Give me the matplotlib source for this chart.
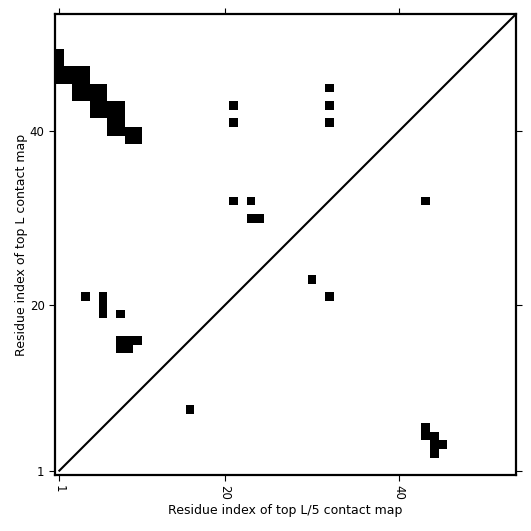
import numpy as np
import matplotlib
matplotlib.use('Agg')
import matplotlib.pyplot as plt

# length of the protein (number of residues)
n_res = 53

# contacts from the top L map (upper-left triangle), (i, j) residue pairs
top_l_i = [1, 1, 1, 1, 2, 3, 4, 2, 3, 4,
           3, 4, 5, 6, 3, 4, 5, 6,
           5, 6, 7, 8, 5, 6, 7, 8,
           7, 8, 7, 8, 9, 10, 9, 10,
           21, 21, 32, 32, 32, 21, 23, 23, 24,
           4, 6, 6, 6, 8, 8, 9, 10, 8, 9]
top_l_j = [49, 48, 47, 46, 47, 47, 47, 46, 46, 46,
           45, 45, 45, 45, 44, 44, 44, 44,
           43, 43, 43, 43, 42, 42, 42, 42,
           41, 41, 40, 40, 40, 40, 39, 39,
           43, 41, 45, 43, 41, 32, 32, 30, 30,
           21, 21, 20, 19, 19, 16, 16, 16, 15, 15]

# contacts from the top L/5 map (lower-right triangle)
top_l5_i = [16, 30, 32, 43, 43, 43, 44, 44, 45, 44]
top_l5_j = [8, 23, 21, 32, 6, 5, 5, 4, 4, 3]

tick_vals = [1, 20, 40]

cmap = np.zeros((n_res, n_res))
for i, j in zip(top_l_i, top_l_j):
    cmap[j - 1, i - 1] = 1
for i, j in zip(top_l5_i, top_l5_j):
    cmap[j - 1, i - 1] = 1

fig = plt.figure(figsize=(5.31, 5.31), dpi=100)
ax = fig.add_axes([0.1036, 0.1055, 0.8682, 0.8681])
ax.imshow(cmap, cmap='gray_r', origin='lower', interpolation='nearest',
          extent=(0.5, n_res + 0.5, 0.5, n_res + 0.5), vmin=0, vmax=1,
          aspect='auto')
ax.plot([1, n_res + 1], [1, n_res + 1], color='black', lw=1.5)
ax.set_xlim(0.5, n_res + 0.5)
ax.set_ylim(0.5, n_res + 0.5)

ax.set_xticks(tick_vals)
ax.set_yticks(tick_vals)
ax.set_xticklabels([str(t) for t in tick_vals], rotation=270)
ax.tick_params(top=True, right=True, direction='out', length=4, width=0.8,
               labelsize=8.5)
for s in ax.spines.values():
    s.set_linewidth(1.6)

ax.set_xlabel('Residue index of top L/5 contact map', fontsize=9, labelpad=3)
ax.set_ylabel('Residue index of top L contact map', fontsize=9, labelpad=1)

fig.savefig('out.png', dpi=100)
